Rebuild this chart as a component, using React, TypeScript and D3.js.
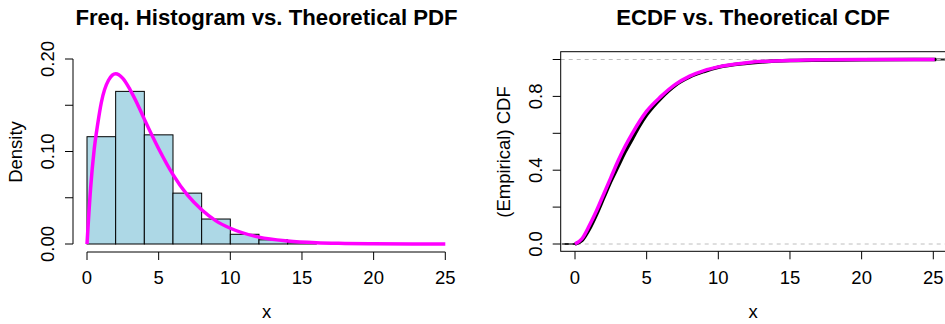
import { useRef, useEffect } from "react";
import * as d3 from "d3";

// histogram (density)
const binStarts = [0, 2, 4, 6, 8, 10, 12, 14];
const binWidth = 2;
const binDensity = [0.116, 0.165, 0.118, 0.055, 0.027, 0.0105, 0.0045, 0.0015];

// theoretical pdf
const pdfX = [0, 0.25, 0.5, 0.75, 1, 1.5, 2, 2.5, 3, 3.5, 4, 5, 6, 7, 8, 9, 10, 12, 14, 16, 18, 20, 25];
const pdfY = [0, 0.06, 0.102, 0.13, 0.153, 0.177, 0.184, 0.179, 0.167, 0.152, 0.135, 0.103, 0.075, 0.053, 0.037, 0.025, 0.017, 0.0074, 0.0032, 0.0013, 0.0006, 0.0002, 0];

// empirical cdf (black) and theoretical cdf (magenta)
const ecdfX = [0, 0.5, 1, 1.5, 2, 2.5, 3, 3.5, 4, 4.5, 5, 6, 7, 8, 9, 10, 12, 15, 20, 25.2];
const ecdfY = [0, 0.02, 0.08, 0.16, 0.25, 0.34, 0.42, 0.5, 0.57, 0.64, 0.7, 0.79, 0.86, 0.905, 0.935, 0.958, 0.98, 0.994, 0.999, 1];
const ecdfMin = -0.9;
const ecdfMax = 26.5;
const cdfX = [0, 0.5, 1, 1.5, 2, 2.5, 3, 3.5, 4, 5, 6, 7, 8, 9, 10, 12, 15, 20, 25.1];
const cdfY = [0, 0.03, 0.1, 0.18, 0.27, 0.36, 0.45, 0.53, 0.6, 0.72, 0.8, 0.865, 0.91, 0.94, 0.96, 0.983, 0.995, 0.9995, 1];

const xTicks = [0, 5, 10, 15, 20, 25];
const leftYTicks = [0, 0.05, 0.1, 0.15, 0.2];
const leftYLabels = ["0.00", "", "0.10", "", "0.20"];
const rightYTicks = [0, 0.2, 0.4, 0.6, 0.8, 1];
const rightYLabels = ["0.0", "", "0.4", "", "0.8", ""];

const W = 945;
const H = 324;
const FONT = "'Liberation Sans', Arial, Helvetica, sans-serif";
const MAGENTA = "#ff00ff";
const AX = 18.5;
const TITLE = 22.2;

export default function App() {
  const svgRef = useRef<SVGSVGElement>(null);

  useEffect(() => {
    if (!svgRef.current) return;
    const svg = d3.select(svgRef.current);
    svg.selectAll("*").remove();

    const txt = (
      x: number,
      y: number,
      s: string,
      size: number,
      opts: { bold?: boolean; rotate?: boolean } = {},
    ) => {
      const t = svg
        .append("text")
        .attr("text-anchor", "middle")
        .attr("dominant-baseline", "central")
        .attr("font-family", FONT)
        .attr("font-size", size)
        .attr("font-weight", opts.bold ? "bold" : "normal")
        .attr("fill", "#000")
        .text(s);
      if (opts.rotate) t.attr("transform", `translate(${x},${y}) rotate(-90)`);
      else t.attr("x", x).attr("y", y);
    };

    // ---------- left panel ----------
    const xL = d3.scaleLinear().domain([0, 25]).range([87, 445.3]);
    const yL = d3.scaleLinear().domain([0, 0.2]).range([244, 59]);

    svg
      .append("g")
      .selectAll("rect")
      .data(binStarts)
      .join("rect")
      .attr("x", (d) => xL(d))
      .attr("y", (_, i) => yL(binDensity[i]))
      .attr("width", (d) => xL(d + binWidth) - xL(d))
      .attr("height", (_, i) => yL(0) - yL(binDensity[i]))
      .attr("fill", "#add8e6")
      .attr("stroke", "#000")
      .attr("stroke-width", 1);

    const pdfLine = d3
      .line<number>()
      .x((d) => xL(d))
      .y((_, i) => yL(pdfY[i]))
      .curve(d3.curveMonotoneX);
    svg
      .append("path")
      .attr("d", pdfLine(pdfX))
      .attr("fill", "none")
      .attr("stroke", MAGENTA)
      .attr("stroke-width", 3.5);

    // x axis
    const axY = 252;
    svg.append("line").attr("x1", xL(0)).attr("x2", xL(25)).attr("y1", axY).attr("y2", axY).attr("stroke", "#000");
    xTicks.forEach((t) => {
      svg.append("line").attr("x1", xL(t)).attr("x2", xL(t)).attr("y1", axY).attr("y2", axY + 8).attr("stroke", "#000");
      txt(xL(t), 277, String(t), AX);
    });
    // y axis
    const axX = 73;
    svg.append("line").attr("x1", axX).attr("x2", axX).attr("y1", yL(0)).attr("y2", yL(0.2)).attr("stroke", "#000");
    leftYTicks.forEach((t, i) => {
      svg.append("line").attr("x1", axX - 8).attr("x2", axX).attr("y1", yL(t)).attr("y2", yL(t)).attr("stroke", "#000");
      if (leftYLabels[i]) txt(47, yL(t), leftYLabels[i], AX, { rotate: true });
    });
    txt(266.5, 17, "Freq. Histogram vs. Theoretical PDF", TITLE, { bold: true });
    txt(266.5, 311, "x", AX);
    txt(15, 152, "Density", AX, { rotate: true });

    // ---------- right panel ----------
    const xR = d3.scaleLinear().domain([0, 25]).range([575, 933.3]);
    const yR = d3.scaleLinear().domain([0, 1]).range([244, 59.5]);
    const boxL = 560.7;
    const boxT = 51.7;
    const boxB = 251.3;
    const boxR = 948;

    // ecdf tails (thin)
    svg.append("line").attr("x1", xR(ecdfMin)).attr("x2", xR(0)).attr("y1", yR(0)).attr("y2", yR(0)).attr("stroke", "#222").attr("stroke-width", 2);
    svg.append("line").attr("x1", xR(25.1)).attr("x2", xR(ecdfMax)).attr("y1", yR(1)).attr("y2", yR(1)).attr("stroke", "#222").attr("stroke-width", 2);

    [0, 1].forEach((v) => {
      svg
        .append("line")
        .attr("x1", boxL)
        .attr("x2", boxR)
        .attr("y1", yR(v))
        .attr("y2", yR(v))
        .attr("stroke", "#bebebe")
        .attr("stroke-dasharray", "4,4");
    });

    const ecdfLine = d3
      .line<number>()
      .x((d) => xR(d))
      .y((_, i) => yR(ecdfY[i]))
      .curve(d3.curveMonotoneX);
    svg
      .append("path")
      .attr("d", ecdfLine(ecdfX))
      .attr("fill", "none")
      .attr("stroke", "#000")
      .attr("stroke-width", 3.5);

    const cdfLine = d3
      .line<number>()
      .x((d) => xR(d))
      .y((_, i) => yR(cdfY[i]))
      .curve(d3.curveMonotoneX);
    svg
      .append("path")
      .attr("d", cdfLine(cdfX))
      .attr("fill", "none")
      .attr("stroke", MAGENTA)
      .attr("stroke-width", 3.5);

    svg
      .append("rect")
      .attr("x", boxL)
      .attr("y", boxT)
      .attr("width", boxR - boxL)
      .attr("height", boxB - boxT)
      .attr("fill", "none")
      .attr("stroke", "#000");

    xTicks.forEach((t) => {
      svg.append("line").attr("x1", xR(t)).attr("x2", xR(t)).attr("y1", boxB).attr("y2", boxB + 8).attr("stroke", "#000");
      txt(xR(t), 277, String(t), AX);
    });
    rightYTicks.forEach((t, i) => {
      svg.append("line").attr("x1", boxL - 8).attr("x2", boxL).attr("y1", yR(t)).attr("y2", yR(t)).attr("stroke", "#000");
      if (rightYLabels[i]) txt(535, yR(t), rightYLabels[i], AX, { rotate: true });
    });
    txt(753, 17, "ECDF vs. Theoretical CDF", TITLE, { bold: true });
    txt(753, 311, "x", AX);
    txt(503, 152, "(Empirical) CDF", AX, { rotate: true });
  }, []);

  return (
    <div style={{ position: "absolute", left: 0, top: 0, background: "#fff" }}>
      <svg ref={svgRef} width={W} height={H} style={{ display: "block" }} />
    </div>
  );
}
